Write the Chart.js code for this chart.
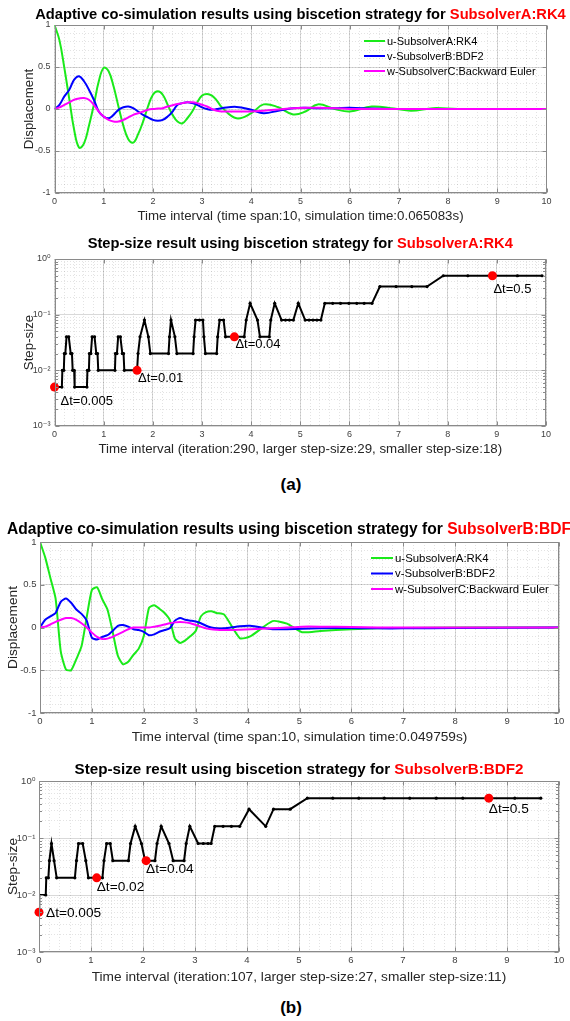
<!DOCTYPE html>
<html lang="en">
<head>
<meta charset="UTF-8" />
<meta name="viewport" content="width=570" />
<title>Adaptive co-simulation results</title>
<style>
  html, body { margin: 0; padding: 0; background: #fff; }
  body { position: relative; width: 570px; height: 1021px; overflow: hidden;
         font-family: 'Liberation Sans', Arial, sans-serif; }
  .panel { position: absolute; left: 0; width: 570px; }
  .caption { position: absolute; font-weight: bold; font-size: 17px; color: #000;
             transform: translate(-50%, -50%); white-space: nowrap; }
</style>
</head>
<body>
<div class="panel" style="top:0;height:232px"><canvas id="dispA"></canvas></div>
<div class="panel" style="top:235px;height:225px"><canvas id="stepA"></canvas></div>
<div class="caption" style="left:291px;top:485px">(a)</div>
<div class="panel" style="top:518px;height:232px"><canvas id="dispB"></canvas></div>
<div class="panel" style="top:760px;height:232px"><canvas id="stepB"></canvas></div>
<div class="caption" style="left:291px;top:1008px">(b)</div>

<script src="https://cdn.jsdelivr.net/npm/chart.js"></script>
<script>
// ---- data ----
const seriesNames = ['u-SubsolverA:RK4', 'v-SubsolverB:BDF2', 'w-SubsolverC:Backward Euler'];

// (a) displacement, adaptive for SubsolverA:RK4
const timeA = [0, 0.1, 0.2, 0.3, 0.4, 0.5, 0.6, 0.7, 0.8, 0.9, 1.0, 1.1, 1.2, 1.3, 1.4, 1.5, 1.6, 1.7,
  1.8, 1.9, 2.0, 2.1, 2.2, 2.3, 2.4, 2.5, 2.6, 2.7, 2.8, 2.9, 3.0, 3.1, 3.2, 3.3, 3.4,
  3.7, 4.0, 4.25, 4.55, 4.85, 5.1, 5.35, 5.7, 6.0, 6.45, 6.9, 7.25, 7.7, 8.2, 9, 10];
const uA = [1.0, 0.82, 0.49, 0.12, -0.25, -0.46, -0.41, -0.2, 0.05, 0.33, 0.49, 0.45, 0.27, 0.03, -0.2, -0.36, -0.4, -0.3,
  -0.15, 0.03, 0.17, 0.21, 0.17, 0.05, -0.07, -0.15, -0.17, -0.11, -0.03, 0.08, 0.16, 0.18, 0.16, 0.1, 0.02,
  -0.11, -0.05, 0.055, 0.02, -0.065, -0.03, 0.055, 0.0, -0.03, 0.03, 0.005, -0.02, 0.01, 0.0, 0, 0];
const vA = [0, 0.05, 0.15, 0.23, 0.35, 0.39, 0.33, 0.23, 0.11, -0.03, -0.09, -0.11, -0.07, -0.01, 0.02, 0.03, 0.01, -0.03,
  -0.07, -0.1, -0.13, -0.14, -0.13, -0.09, -0.03, 0.05, 0.07, 0.08, 0.07, 0.05, 0.02, 0.0, -0.01, 0.0, 0.01,
  0.025, -0.01, -0.05, -0.02, 0.01, 0.015, 0.01, 0.01, 0.015, 0.005, 0, 0, 0, 0, 0, 0];
const wA = [0, 0.02, 0.05, 0.08, 0.11, 0.125, 0.13, 0.11, 0.05, -0.03, -0.09, -0.13, -0.15, -0.15, -0.13, -0.1, -0.07, -0.05,
  -0.03, -0.01, 0.0, 0.005, 0.01, 0.03, 0.045, 0.06, 0.07, 0.08, 0.08, 0.07, 0.05, 0.03, 0.0, -0.02, -0.03,
  -0.03, -0.03, -0.02, -0.005, 0.01, 0.015, 0.015, 0.01, 0.0, 0, 0, 0, 0, 0, 0, 0];

// (b) displacement, adaptive for SubsolverB:BDF2
const timeB = [0, 0.1, 0.2, 0.3, 0.4, 0.5, 0.6, 0.7, 0.8, 0.9, 1.0, 1.1, 1.2, 1.3, 1.4, 1.5, 1.6, 1.7,
  1.8, 1.9, 2.0, 2.1, 2.2, 2.3, 2.4, 2.5, 2.6, 2.7, 2.8, 2.9, 3.0, 3.1, 3.2, 3.3, 3.4,
  3.55, 3.85, 4.05, 4.48, 4.76, 5.05, 5.4, 6.0, 6.5, 7.0, 8.0, 10];
const uB = [1.0, 0.82, 0.58, 0.34, -0.28, -0.49, -0.5, -0.37, -0.22, 0.12, 0.44, 0.47, 0.33, 0.21, -0.05, -0.33, -0.43, -0.4,
  -0.32, -0.25, -0.1, 0.23, 0.26, 0.22, 0.17, 0.09, -0.13, -0.18, -0.15, -0.1, -0.04, 0.13, 0.18, 0.19, 0.17,
  0.15, -0.125, -0.105, 0.075, 0.045, -0.055, -0.04, -0.02, -0.01, -0.005, 0, 0];
const vB = [0, 0.09, 0.13, 0.17, 0.3, 0.34, 0.29, 0.21, 0.16, 0.08, -0.12, -0.14, -0.11, -0.09, -0.04, 0.02, 0.03, 0.01,
  -0.02, -0.03, -0.05, -0.09, -0.08, -0.05, -0.03, -0.01, 0.08, 0.11, 0.09, 0.08, 0.07, 0.05, 0.02, 0.0, -0.01,
  -0.01, 0.015, 0.02, -0.02, -0.02, -0.015, -0.01, -0.005, -0.01, -0.01, -0.005, 0];
const wB = [0, 0.01, 0.035, 0.065, 0.09, 0.11, 0.11, 0.09, 0.05, 0.0, -0.06, -0.11, -0.135, -0.13, -0.11, -0.08, -0.05, -0.02,
  0.0, 0.0, 0.0, 0.0, 0.01, 0.02, 0.035, 0.05, 0.06, 0.065, 0.06, 0.05, 0.03, 0.01, -0.01, -0.02, -0.025,
  -0.03, -0.025, -0.02, -0.01, 0.0, 0.01, 0.01, 0.005, 0, 0, 0, 0];

// step sizes (a)
const stepTimeA = [0, 0.15, 0.16, 0.19, 0.2, 0.22, 0.245, 0.29, 0.33, 0.355, 0.37, 0.4, 0.41, 0.66, 0.67,
  0.7, 0.71, 0.74, 0.765, 0.815, 0.85, 0.875, 0.89, 1.23, 1.24, 1.27, 1.295, 1.34, 1.38, 1.405,
  1.42, 1.68, 1.7, 1.74, 1.83, 1.91, 1.95, 2.32, 2.34, 2.37, 2.45, 2.49, 2.82, 2.84, 2.87,
  2.95, 3.02, 3.04, 3.07, 3.3, 3.32, 3.36, 3.44, 3.48, 3.66, 3.86, 3.9, 3.98, 4.13, 4.18,
  4.37, 4.4, 4.48, 4.62, 4.7, 4.78, 4.86, 4.96, 5.1, 5.18, 5.26, 5.34, 5.42, 5.5, 5.66,
  5.82, 5.99, 6.15, 6.3, 6.46, 6.62, 6.95, 7.27, 7.58, 7.91, 8.41, 8.91, 9.42, 9.92];
const stepSizeA = [0.005, 0.005, 0.01, 0.01, 0.02, 0.02, 0.04, 0.04, 0.02, 0.02, 0.01, 0.01, 0.005, 0.005, 0.01,
  0.01, 0.02, 0.02, 0.04, 0.04, 0.02, 0.02, 0.01, 0.01, 0.02, 0.02, 0.04, 0.04, 0.02, 0.02,
  0.01, 0.01, 0.02, 0.04, 0.08, 0.04, 0.02, 0.02, 0.04, 0.08, 0.04, 0.02, 0.02, 0.04, 0.08,
  0.08, 0.08, 0.04, 0.02, 0.02, 0.04, 0.08, 0.08, 0.04, 0.04, 0.04, 0.08, 0.16, 0.08, 0.04,
  0.04, 0.08, 0.16, 0.08, 0.08, 0.08, 0.08, 0.16, 0.08, 0.08, 0.08, 0.08, 0.08, 0.16, 0.16,
  0.16, 0.16, 0.16, 0.16, 0.16, 0.32, 0.32, 0.32, 0.32, 0.5, 0.5, 0.5, 0.5, 0.5];
const markTimeA = [0, 1.68, 3.66, 8.91];
const markSizeA = [0.005, 0.01, 0.04, 0.5];
const markTextA = ['\u0394t=0.005', '\u0394t=0.01', '\u0394t=0.04', '\u0394t=0.5'];

// step sizes (b)
const stepTimeB = [0, 0.005, 0.13, 0.14, 0.18, 0.2, 0.24, 0.29, 0.34, 0.69, 0.72, 0.76, 0.84, 0.9, 0.95,
  1.11, 1.22, 1.25, 1.3, 1.37, 1.42, 1.72, 1.76, 1.85, 1.97, 2.04, 2.23, 2.27, 2.35, 2.5,
  2.58, 2.79, 2.83, 2.9, 3.06, 3.16, 3.25, 3.31, 3.38, 3.54, 3.7, 3.86, 4.04, 4.36, 4.51,
  4.83, 5.16, 5.65, 6.15, 6.64, 7.13, 7.64, 8.15, 8.65, 9.15, 9.65];
const stepSizeB = [0.005, 0.01, 0.01, 0.02, 0.02, 0.04, 0.08, 0.04, 0.02, 0.02, 0.04, 0.08, 0.08, 0.04, 0.02,
  0.02, 0.02, 0.04, 0.08, 0.08, 0.04, 0.04, 0.08, 0.16, 0.08, 0.04, 0.04, 0.08, 0.16, 0.08,
  0.04, 0.04, 0.08, 0.16, 0.08, 0.08, 0.08, 0.08, 0.16, 0.16, 0.16, 0.16, 0.32, 0.16, 0.32,
  0.32, 0.5, 0.5, 0.5, 0.5, 0.5, 0.5, 0.5, 0.5, 0.5, 0.5];
const markTimeB = [0, 1.11, 2.06, 8.65];
const markSizeB = [0.005, 0.02, 0.04, 0.5];
const markTextB = ['\u0394t=0.005', '\u0394t=0.02', '\u0394t=0.04', '\u0394t=0.5'];

// axis ticks
const linMajor = [-1, -0.5, 0, 0.5, 1];
const linMajorLabels = ['-1', '-0.5', '0', '0.5', '1'];
const logMajor = [0.001, 0.01, 0.1, 1];
const logMajorLabels = ['10\u207B\u00B3', '10\u207B\u00B2', '10\u207B\u00B9', '10\u2070'];
const logMinor = [0.002, 0.003, 0.004, 0.005, 0.006, 0.007, 0.008, 0.009,
  0.02, 0.03, 0.04, 0.05, 0.06, 0.07, 0.08, 0.09,
  0.2, 0.3, 0.4, 0.5, 0.6, 0.7, 0.8, 0.9];

// ---- styling ----
const FONT = "'Liberation Sans', Arial, 'DejaVu Sans', sans-serif";
const MAJOR_GRID = 'rgba(0,0,0,0.15)';
const MINOR_GRID = 'rgba(0,0,0,0.11)';
const TICK_COLOR = '#404040';
const LABEL_COLOR = '#262626';
const BOX_COLOR = '#8a8a8a';
const COLORS = ['#1aea1a', '#0000ff', '#ff00ff'];

// draws the MATLAB-like box, inward ticks, two-colour title, legend and marker labels
const matlabLook = {
  id: 'matlabLook',
  afterDraw(chart, args, opts) {
    const { ctx, chartArea: a } = chart;
    ctx.save();
    const L = Math.round(a.left) + 0.5, R = Math.round(a.right) - 0.5;
    const T = Math.round(a.top) + 0.5, B = Math.round(a.bottom) - 0.5;

    ctx.strokeStyle = BOX_COLOR;
    ctx.lineWidth = 1;
    const seg = (x1, y1, x2, y2) => { ctx.beginPath(); ctx.moveTo(x1, y1); ctx.lineTo(x2, y2); ctx.stroke(); };
    chart.scales.x.ticks.forEach(t => {
      const p = Math.round(chart.scales.x.getPixelForValue(t.value)) + 0.5;
      seg(p, B, p, B - 4); seg(p, T, p, T + 4);
    });
    const yTicks = (sc, len) => sc.ticks.forEach(t => {
      const p = Math.round(sc.getPixelForValue(t.value)) + 0.5;
      seg(L, p, L + len, p); seg(R, p, R - len, p);
    });
    yTicks(chart.scales.y, 4);
    if (opts.log) yTicks(chart.scales.ym, 2.5);
    ctx.strokeRect(L, T, R - L, B - T);

    // title
    ctx.font = 'bold ' + opts.titleSize + 'px ' + FONT;
    ctx.textBaseline = 'middle';
    ctx.textAlign = 'left';
    const total = opts.title.reduce((s, p) => s + ctx.measureText(p.text).width, 0);
    let x = opts.titleLeft != null ? opts.titleLeft : (a.left + a.right) / 2 - total / 2;
    opts.title.forEach(p => {
      ctx.fillStyle = p.color;
      ctx.fillText(p.text, x, opts.titleY);
      x += ctx.measureText(p.text).width;
    });

    // legend
    if (opts.legend) {
      const lg = opts.legend;
      ctx.font = lg.size + 'px ' + FONT;
      chart.data.datasets.forEach((ds, i) => {
        const y = lg.y + i * lg.gap;
        ctx.strokeStyle = ds.borderColor;
        ctx.lineWidth = 2;
        seg(lg.x, y, lg.x + lg.len, y);
        ctx.fillStyle = '#000';
        ctx.fillText(ds.label, lg.x + lg.len + 2, y + 0.5);
      });
    }

    // marker labels
    if (opts.marks) {
      ctx.font = opts.marks.size + 'px ' + FONT;
      ctx.fillStyle = '#000';
      chart.getDatasetMeta(1).data.forEach((pt, i) => {
        const off = opts.marks.offsets[i];
        ctx.fillText(opts.marks.texts[i], pt.x + off[0], pt.y + off[1]);
      });
    }
    ctx.restore();
  }
};

function makeScales(c) {
  const tickFont = { size: c.tickSize, family: FONT };
  const labelFont = { size: c.labelSize, family: FONT };
  const major = c.log ? logMajor : linMajor;
  const majorLabels = c.log ? logMajorLabels : linMajorLabels;
  const scales = {
    x: {
      type: 'linear', min: 0, max: 10, position: 'bottom',
      ticks: { stepSize: 1, font: tickFont, color: TICK_COLOR, padding: c.xTickPad, maxRotation: 0, autoSkip: false },
      grid: { color: MAJOR_GRID, drawTicks: false },
      border: { display: false },
      title: { display: true, text: c.xTitle, font: labelFont, color: LABEL_COLOR, padding: { top: 0, bottom: c.xTitlePad } },
      afterFit: s => { s.height = c.xHeight; }
    },
    xm: {
      type: 'linear', min: 0, max: 10, position: 'bottom',
      ticks: { display: false, stepSize: 0.2 },
      grid: { color: MINOR_GRID, drawTicks: false },
      border: { display: false, dash: [1, 2] },
      afterFit: s => { s.height = 0; }
    },
    y: {
      type: c.log ? 'logarithmic' : 'linear',
      min: c.log ? 0.001 : -1, max: 1, position: 'left',
      afterBuildTicks: s => { s.ticks = major.map(v => ({ value: v })); },
      ticks: { callback: (v, i) => majorLabels[i], autoSkip: false, font: tickFont, color: TICK_COLOR, padding: c.yTickPad },
      grid: { color: MAJOR_GRID, drawTicks: false },
      border: { display: false },
      title: { display: true, text: c.yTitle, font: labelFont, color: LABEL_COLOR, padding: { top: c.yTitlePad, bottom: 0 } },
      afterFit: s => { s.width = c.yWidth; }
    }
  };
  if (c.log) {
    scales.ym = {
      type: 'logarithmic', min: 0.001, max: 1, position: 'left',
      afterBuildTicks: s => { s.ticks = logMinor.map(v => ({ value: v })); },
      ticks: { display: false },
      grid: { color: MINOR_GRID, drawTicks: false },
      border: { display: false, dash: [1, 2] },
      afterFit: s => { s.width = 0; }
    };
  } else {
    scales.ym = {
      type: 'linear', min: -1, max: 1, position: 'left',
      ticks: { display: false, stepSize: 0.1 },
      grid: { color: MINOR_GRID, drawTicks: false },
      border: { display: false, dash: [1, 2] },
      afterFit: s => { s.width = 0; }
    };
  }
  return scales;
}

function dispSets(time, u, v, w, tension) {
  const pts = arr => time.map((t, i) => ({ x: t, y: arr[i] }));
  return [u, v, w].map((arr, i) => ({
    label: seriesNames[i], data: pts(arr), borderColor: COLORS[i], borderWidth: 2,
    pointRadius: 0, tension: tension, order: 3 - i
  }));
}

function stepSets(time, size, markT, markS) {
  return [
    { data: time.map((t, i) => ({ x: t, y: size[i] })), borderColor: '#000', borderWidth: 2,
      pointRadius: 1.6, pointBackgroundColor: '#000', pointBorderWidth: 0, tension: 0, order: 2 },
    { data: markT.map((t, i) => ({ x: t, y: markS[i] })), showLine: false, pointRadius: 4.5,
      pointBackgroundColor: '#ff0000', pointBorderWidth: 0, order: 1, clip: false }
  ];
}

function makeChart(id, datasets, look, scales) {
  return new Chart(document.getElementById(id), {
    type: 'line',
    data: { datasets },
    options: {
      responsive: true, maintainAspectRatio: false, animation: false, events: [],
      layout: { padding: { top: look.padTop, right: look.padRight, left: 0, bottom: 0 } },
      scales,
      plugins: { legend: { display: false }, tooltip: { enabled: false }, matlabLook: look }
    },
    plugins: [matlabLook]
  });
}

// (a) top: displacement
makeChart('dispA', dispSets(timeA, uA, vA, wA, 0.4), {
  padTop: 25, padRight: 23.5, titleY: 15, titleSize: 14.7,
  title: [{ text: 'Adaptive co-simulation results using biscetion strategy for ', color: '#000' },
          { text: 'SubsolverA:RK4', color: '#ff0000' }],
  legend: { x: 364, y: 41, gap: 15, len: 21, size: 11 }
}, makeScales({ log: false, tickSize: 9, labelSize: 13.3, xHeight: 39, yWidth: 54.5, xTickPad: 3, yTickPad: 4,
  xTitle: 'Time interval (time span:10, simulation time:0.065083s)', xTitlePad: 8,
  yTitle: 'Displacement', yTitlePad: 21 }));

// (a) bottom: step size
makeChart('stepA', stepSets(stepTimeA, stepSizeA, markTimeA, markSizeA), {
  padTop: 24, padRight: 24, titleY: 9, titleSize: 14.7, log: true,
  title: [{ text: 'Step-size result using biscetion strategy for ', color: '#000' },
          { text: 'SubsolverA:RK4', color: '#ff0000' }],
  marks: { texts: markTextA, size: 13, offsets: [[6, 14], [1, 8], [1, 8], [1, 14]] }
}, makeScales({ log: true, tickSize: 9, labelSize: 13.3, xHeight: 34, yWidth: 54.5, xTickPad: 3, yTickPad: 4,
  xTitle: 'Time interval (iteration:290, larger step-size:29, smaller step-size:18)', xTitlePad: 3,
  yTitle: 'Step-size', yTitlePad: 21 }));

// (b) top: displacement
makeChart('dispB', dispSets(timeB, uB, vB, wB, 0.2), {
  padTop: 24, padRight: 11, titleY: 12, titleSize: 15.6, titleLeft: 7,
  title: [{ text: 'Adaptive co-simulation results using biscetion strategy for ', color: '#000' },
          { text: 'SubsolverB:BDF', color: '#ff0000' }],
  legend: { x: 371, y: 40, gap: 15.5, len: 22, size: 11.4 }
}, makeScales({ log: false, tickSize: 9.5, labelSize: 13.7, xHeight: 37, yWidth: 40, xTickPad: 3, yTickPad: 3.5,
  xTitle: 'Time interval (time span:10, simulation time:0.049759s)', xTitlePad: 5,
  yTitle: 'Displacement', yTitlePad: 5 }));

// (b) bottom: step size
makeChart('stepB', stepSets(stepTimeB, stepSizeB, markTimeB, markSizeB), {
  padTop: 21, padRight: 11, titleY: 10, titleSize: 15.2, log: true,
  title: [{ text: 'Step-size result using biscetion strategy for ', color: '#000' },
          { text: 'SubsolverB:BDF2', color: '#ff0000' }],
  marks: { texts: markTextB, size: 13.7, offsets: [[7, 1], [0, 9], [0, 9], [0, 11]] }
}, makeScales({ log: true, tickSize: 9.5, labelSize: 13.7, xHeight: 40, yWidth: 39, xTickPad: 3, yTickPad: 3.5,
  xTitle: 'Time interval (iteration:107, larger step-size:27, smaller step-size:11)', xTitlePad: 7,
  yTitle: 'Step-size', yTitlePad: 5 }));
</script>
</body>
</html>
